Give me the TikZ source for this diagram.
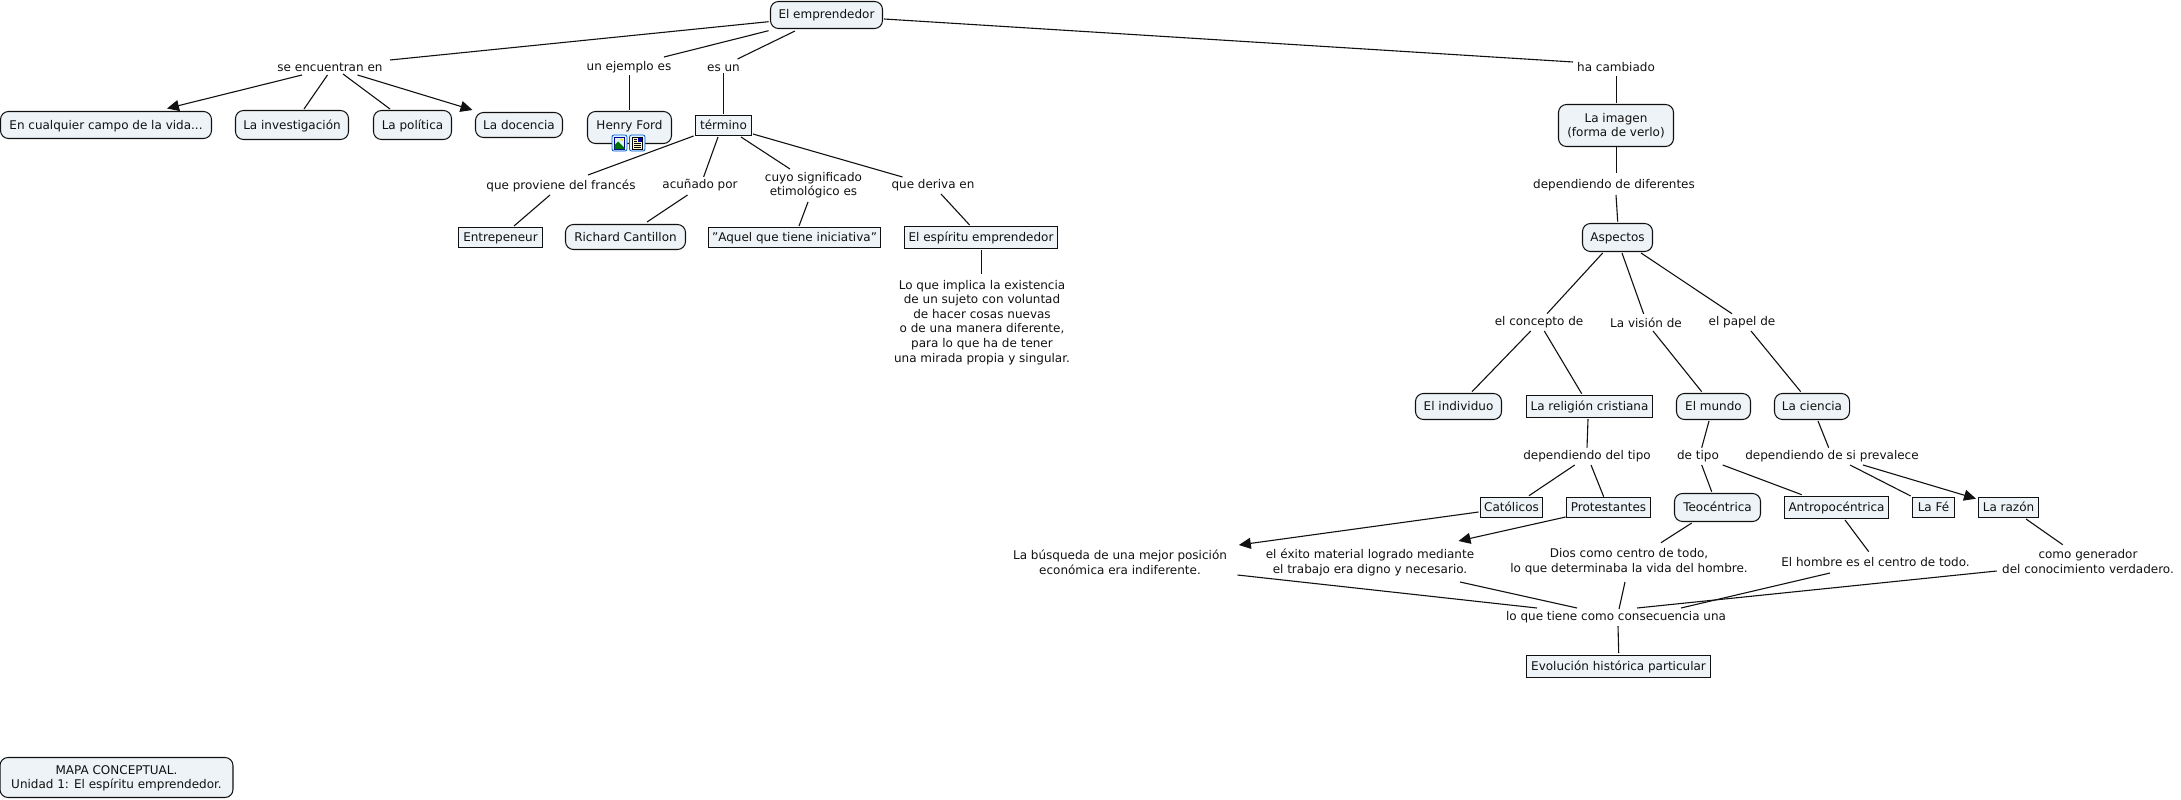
\documentclass[tikz,border=0pt]{standalone}
\usepackage{fontspec}
\setmainfont{DejaVu Sans}
\usetikzlibrary{arrows.meta}
\definecolor{boxfill}{HTML}{EDF3F6}
\definecolor{ink}{HTML}{111111}
\tikzset{
  base/.style={font=\fontsize{12}{14.6}\selectfont,text=ink,inner sep=0pt,outer sep=0pt,align=center,text height=11pt,text depth=3pt},
  lbl/.style={base},
  two/.style={text height=25.6pt},
  six/.style={text height=84pt},
  rbox/.style={base,draw=ink,line width=1.05pt,fill=boxfill,rounded corners=8pt},
  sbox/.style={base,draw=ink,line width=1.3pt,fill=boxfill},
  link/.style={draw=ink,line width=1.1pt},
  arrowlink/.style={link,-{Triangle[length=12pt,width=11pt]}},
  sz/.style 2 args={minimum width=#1pt,minimum height=#2pt},
}
\begin{document}
\begin{tikzpicture}[x=1pt,y=-1pt]
\useasboundingbox (0,0) rectangle (2181,800);
% nodes
\node[rbox,sz={112}{27}] (emp) at (826.5,15) {El emprendedor};
\node[lbl] (se) at (330,67) {se encuentran en};
\node[lbl] (ej) at (629,66.5) {un ejemplo es};
\node[lbl] (esun) at (723.5,67) {es un};
\node[lbl] (cam) at (1616,67) {ha cambiado};
\node[rbox,sz={211}{27}] (cual) at (106,125) {En cualquier campo de la vida...};
\node[rbox,sz={113}{29}] (inv) at (292,125) {La investigación};
\node[rbox,sz={78}{29}] (pol) at (412.5,125) {La política};
\node[rbox,sz={87}{25}] (doc) at (519,125) {La docencia};
\node[rbox,sz={84}{32},text height=10pt,text depth=6pt] (ford) at (629.5,127.5) {Henry Ford};
\node[sbox,sz={56}{20}] (term) at (723.5,125.5) {término};
\node[lbl] (prov) at (561,185) {que proviene del francés};
\node[lbl] (acu) at (700,184) {acuñado por};
\node[lbl,two] (cuyo) at (813.5,184.5) {cuyo significado\\etimológico es};
\node[lbl] (der) at (933,184) {que deriva en};
\node[sbox,sz={84}{20}] (entre) at (500.5,237.5) {Entrepeneur};
\node[rbox,sz={120}{25}] (rich) at (625.5,237) {Richard Cantillon};
\node[sbox,sz={172}{20}] (aquel) at (794.5,237.5) {"Aquel que tiene iniciativa"};
\node[sbox,sz={153}{22}] (esp) at (981,237.5) {El espíritu emprendedor};
\node[lbl,six] (lo) at (982,321.5) {Lo que implica la existencia\\de un sujeto con voluntad\\de hacer cosas nuevas\\o de una manera diferente,\\para lo que ha de tener\\una mirada propia y singular.};
\node[rbox,two,sz={115}{42}] (img) at (1616,125.5) {La imagen\\(forma de verlo)};
\node[lbl] (dep) at (1614,184.5) {dependiendo de diferentes};
\node[rbox,sz={70}{28}] (asp) at (1617.5,237.5) {Aspectos};
\node[lbl] (conc) at (1539,321) {el concepto de};
\node[lbl] (vis) at (1646,323) {La visión de};
\node[lbl] (pap) at (1742,321) {el papel de};
\node[rbox,sz={86}{26}] (indiv) at (1458.5,406.5) {El individuo};
\node[sbox,sz={126}{22}] (relig) at (1589.5,406.5) {La religión cristiana};
\node[rbox,sz={74}{26}] (mundo) at (1713.5,406.5) {El mundo};
\node[rbox,sz={75}{26}] (cien) at (1812,406.5) {La ciencia};
\node[lbl] (depdel) at (1587,455) {dependiendo del tipo};
\node[lbl] (detipo) at (1698,455) {de tipo};
\node[lbl] (depsi) at (1832,455) {dependiendo de si prevalece};
\node[sbox,sz={62}{20}] (cat) at (1511.5,507.5) {Católicos};
\node[sbox,sz={84}{20}] (prot) at (1608.5,507.5) {Protestantes};
\node[rbox,sz={86}{28}] (teo) at (1717.5,507.5) {Teocéntrica};
\node[sbox,sz={104}{22}] (antro) at (1836.5,507.5) {Antropocéntrica};
\node[sbox,sz={42}{20}] (fe) at (1933.5,507.5) {La Fé};
\node[sbox,sz={60}{20}] (raz) at (2008.5,507.5) {La razón};
\node[lbl,two] (busq) at (1120,563) {La búsqueda de una mejor posición\\económica era indiferente.};
\node[lbl,two] (exito) at (1370,562) {el éxito material logrado mediante\\el trabajo era digno y necesario.};
\node[lbl,two] (dios) at (1629,561) {Dios como centro de todo,\\lo que determinaba la vida del hombre.};
\node[lbl] (homb) at (1875.5,562) {El hombre es el centro de todo.};
\node[lbl,two] (como) at (2088,562) {como generador\\del conocimiento verdadero.};
\node[lbl] (cons) at (1616,616) {lo que tiene como consecuencia una};
\node[sbox,sz={184}{22}] (evol) at (1618.5,666.5) {Evolución histórica particular};
\node[rbox,two,sz={233}{40}] (mapa) at (116.5,777.5) {MAPA CONCEPTUAL.\\Unidad 1: El espíritu emprendedor.};
% connectors: ends are offsets from the centres of the named nodes
\draw[link] ([shift={(-57.9,6.7)}]emp.center) -- ([shift={(60,-7)}]se.center);
\draw[link] ([shift={(-57.9,15.7)}]emp.center) -- ([shift={(35,-9.5)}]ej.center);
\draw[link] ([shift={(-31.5,16)}]emp.center) -- ([shift={(14,-8)}]esun.center);
\draw[link] ([shift={(57.5,4)}]emp.center) -- ([shift={(-43,-5)}]cam.center);
\draw[arrowlink] ([shift={(-28,8)}]se.center) -- ([shift={(61,-16.5)}]cual.center);
\draw[link] ([shift={(-2.5,8)}]se.center) -- ([shift={(12,-16)}]inv.center);
\draw[link] ([shift={(13,7)}]se.center) -- ([shift={(-22.5,-16)}]pol.center);
\draw[arrowlink] ([shift={(27.5,8)}]se.center) -- ([shift={(-46.5,-15)}]doc.center);
\draw[link] ([shift={(0.5,8.5)}]ej.center) -- ([shift={(0,-17.5)}]ford.center);
\draw[link] ([shift={(0,6)}]esun.center) -- ([shift={(0,-11.5)}]term.center);
\draw[link] ([shift={(-29.9,10.5)}]term.center) -- ([shift={(27,-10)}]prov.center);
\draw[link] ([shift={(-5.5,11.5)}]term.center) -- ([shift={(3.6,-7)}]acu.center);
\draw[link] ([shift={(17.5,11.5)}]term.center) -- ([shift={(-23.5,-15.5)}]cuyo.center);
\draw[link] ([shift={(29.5,8.5)}]term.center) -- ([shift={(-30.5,-7)}]der.center);
\draw[link] ([shift={(-11,10)}]prov.center) -- ([shift={(13.5,-11.5)}]entre.center);
\draw[link] ([shift={(-12.5,11)}]acu.center) -- ([shift={(21.5,-15)}]rich.center);
\draw[link] ([shift={(-5.5,17.5)}]cuyo.center) -- ([shift={(4.5,-11.5)}]aquel.center);
\draw[link] ([shift={(8,10)}]der.center) -- ([shift={(-11.4,-12.5)}]esp.center);
\draw[link] ([shift={(0.5,12.5)}]esp.center) -- ([shift={(-0.5,-47.5)}]lo.center);
\draw[link] ([shift={(0.5,9)}]cam.center) -- ([shift={(0.5,-22.5)}]img.center);
\draw[link] ([shift={(0.5,21.5)}]img.center) -- ([shift={(2.5,-12)}]dep.center);
\draw[link] ([shift={(2,10.5)}]dep.center) -- ([shift={(0.2,-15.8)}]asp.center);
\draw[link] ([shift={(-14.8,15.5)}]asp.center) -- ([shift={(8,-7.3)}]conc.center);
\draw[link] ([shift={(4.5,15.5)}]asp.center) -- ([shift={(-2.3,-9)}]vis.center);
\draw[link] ([shift={(23.5,15.5)}]asp.center) -- ([shift={(-10,-7.3)}]pap.center);
\draw[link] ([shift={(-8.3,10)}]conc.center) -- ([shift={(13.5,-14.8)}]indiv.center);
\draw[link] ([shift={(5.3,10)}]conc.center) -- ([shift={(-7.8,-12.8)}]relig.center);
\draw[link] ([shift={(7,8)}]vis.center) -- ([shift={(-11.8,-14.8)}]mundo.center);
\draw[link] ([shift={(9,10)}]pap.center) -- ([shift={(-11.3,-14.8)}]cien.center);
\draw[link] ([shift={(-1.5,12.5)}]relig.center) -- ([shift={(0,-7.3)}]depdel.center);
\draw[link] ([shift={(-4.5,14.5)}]mundo.center) -- ([shift={(3.7,-7.3)}]detipo.center);
\draw[link] ([shift={(6,14.5)}]cien.center) -- ([shift={(-3.3,-7.3)}]depsi.center);
\draw[link] ([shift={(-12.3,10)}]depdel.center) -- ([shift={(17.5,-11.8)}]cat.center);
\draw[link] ([shift={(4,10)}]depdel.center) -- ([shift={(-4.8,-10.8)}]prot.center);
\draw[link] ([shift={(3.7,10)}]detipo.center) -- ([shift={(-5.8,-15.8)}]teo.center);
\draw[link] ([shift={(24.7,10)}]detipo.center) -- ([shift={(-34.8,-12.8)}]antro.center);
\draw[link] ([shift={(18,10)}]depsi.center) -- ([shift={(-22.8,-11.5)}]fe.center);
\draw[arrowlink] ([shift={(31,10)}]depsi.center) -- ([shift={(-32.5,-8.8)}]raz.center);
\draw[link] ([shift={(17.5,11.5)}]raz.center) -- ([shift={(-25.3,-17.3)}]como.center);
\draw[link] ([shift={(8.5,12.5)}]antro.center) -- ([shift={(-6.8,-10.3)}]homb.center);
\draw[arrowlink] ([shift={(-32.9,4.5)}]cat.center) -- ([shift={(118.8,-18)}]busq.center);
\draw[arrowlink] ([shift={(-42.9,9.5)}]prot.center) -- ([shift={(88.5,-21)}]exito.center);
\draw[link] ([shift={(-25.8,15.5)}]teo.center) -- ([shift={(32,-18.3)}]dios.center);
\draw[link] ([shift={(-4,21)}]dios.center) -- ([shift={(3,-7)}]cons.center);
\draw[link] ([shift={(117.5,12)}]busq.center) -- ([shift={(-79,-8)}]cons.center);
\draw[link] ([shift={(90,20)}]exito.center) -- ([shift={(-39,-8)}]cons.center);
\draw[link] ([shift={(-45.5,11)}]homb.center) -- ([shift={(65,-8)}]cons.center);
\draw[link] ([shift={(-91.3,9)}]como.center) -- ([shift={(21,-8)}]cons.center);
\draw[link] ([shift={(2,10)}]cons.center) -- ([shift={(0.2,-13.5)}]evol.center);
% resource icons on the Henry Ford node
\begin{scope}[line width=0.8pt]
  \filldraw[draw=blue!60!cyan!85!black,fill=cyan!12,rounded corners=2pt] (612,135) rectangle (627,151);
  \filldraw[draw=blue!60!black,fill=white!85!cyan,line width=.4pt] (614.5,137) rectangle (624.5,149);
  \fill[green!45!black] (614.5,149) -- (614.5,145) -- (618,141.5) -- (624.5,148) -- (624.5,149) -- cycle;
  \fill[yellow!85!orange] (621.5,139.8) circle (1.6);
  \filldraw[draw=blue!60!cyan!85!black,fill=cyan!12,rounded corners=2pt] (629.5,135) rectangle (645,151);
  \filldraw[draw=black,fill=yellow!25,line width=.4pt] (632.5,137) rectangle (642.5,149);
  \fill[blue!65!black] (637.5,138) rectangle (641.5,142);
  \draw[black,line width=.6pt] (634,139) -- (636.5,139) (634,141) -- (636.5,141) (634,143.5) -- (641,143.5) (634,145.5) -- (641,145.5) (634,147.5) -- (641,147.5);
\end{scope}
\end{tikzpicture}
\end{document}
